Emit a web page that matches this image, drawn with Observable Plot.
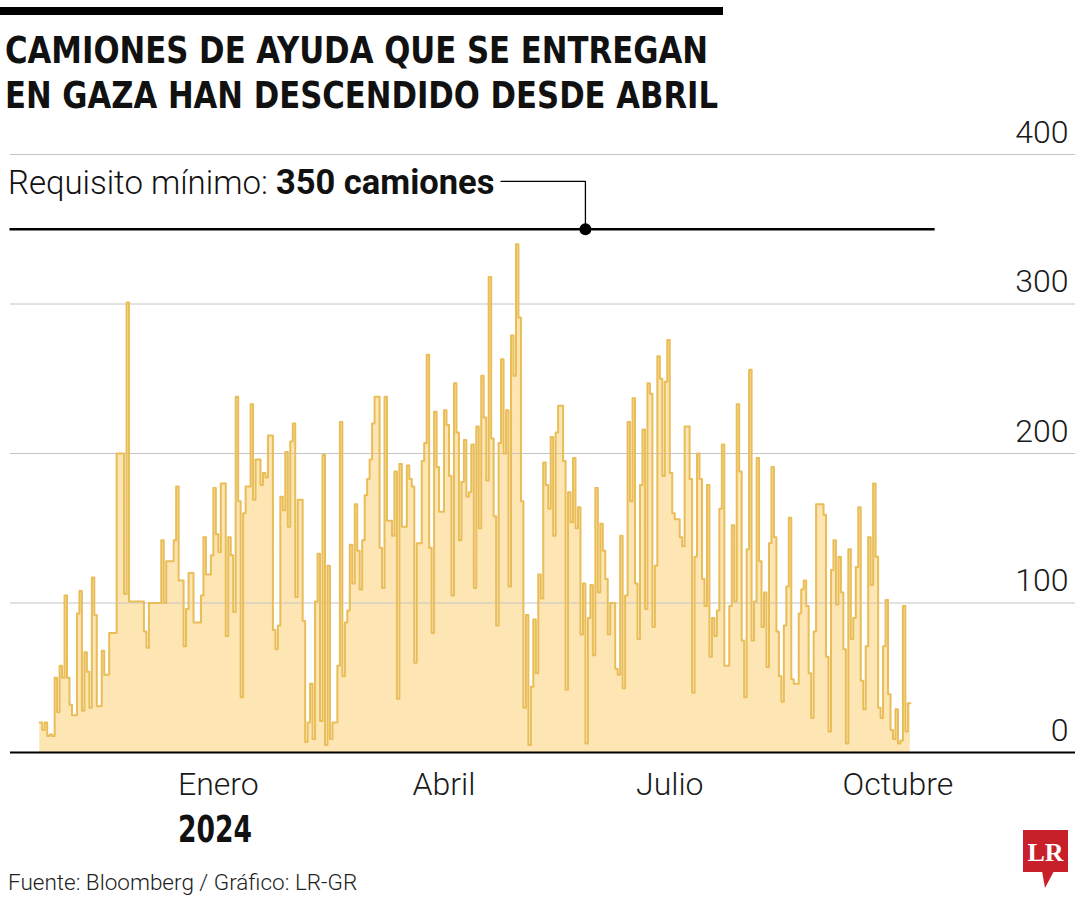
<!DOCTYPE html>
<html>
<head>
<meta charset="utf-8">
<script src="https://cdn.jsdelivr.net/npm/d3@7"></script>
<script src="https://cdn.jsdelivr.net/npm/@observablehq/plot@0.6"></script>
<style>
  body { margin: 0; background: #fff; }
  #wrap { position: relative; width: 1080px; height: 900px; overflow: hidden; font-family: Roboto, sans-serif; color: #1a1a1a; }
  #bar { position: absolute; left: 0; top: 7px; width: 723px; height: 8px; background: #000; }
  .tline { position: absolute; left: 5px; font-family: "DejaVu Sans Condensed", "Liberation Sans Narrow", sans-serif; font-stretch: condensed; font-weight: 700; font-size: 38px; line-height: normal; color: #111; white-space: nowrap; transform-origin: 0 0; }
  #t1 { top: 28px; }
  #t2 { top: 73px; }
  #chart { position: absolute; left: 0; top: 110px; }
  #note { position: absolute; left: 8px; top: 166px; font-size: 33px; line-height: 33px; font-weight: 300; white-space: nowrap; color: #111; }
  #note b { font-weight: 700; font-size: 34.5px; }
  #year { position: absolute; left: 178px; top: 808px; font-family: "DejaVu Sans Condensed", sans-serif; font-stretch: condensed; font-weight: 700; font-size: 37px; line-height: normal; color: #111; white-space: nowrap; transform-origin: 0 0; }
  #source { position: absolute; left: 8px; top: 871px; font-size: 22.5px; line-height: 22.5px; font-weight: 300; color: #222; white-space: nowrap; }
  #logo { position: absolute; left: 1018px; top: 826px; }
</style>
</head>
<body>
<div id="wrap">
  <div id="bar"></div>
  <div id="t1" class="tline" data-w="703">CAMIONES DE AYUDA QUE SE ENTREGAN</div>
  <div id="t2" class="tline" data-w="713">EN GAZA HAN DESCENDIDO DESDE ABRIL</div>
  <div id="chart"></div>
  <div id="note">Requisito mínimo: <b>350 camiones</b></div>
  <div id="year" data-w="74">2024</div>
  <div id="source">Fuente: Bloomberg / Gráfico: LR-GR</div>
  <svg id="logo" width="56" height="70" viewBox="0 0 56 70">
    <rect x="5" y="4" width="45" height="42" fill="#c8202a"/>
    <polygon points="24,45 36,45 27,62" fill="#c8202a"/>
    <text x="27.5" y="35" text-anchor="middle" font-family="Liberation Serif, DejaVu Serif, serif" font-weight="700" font-size="26" fill="#fff">LR</text>
  </svg>
</div>
<script>
// Daily aid trucks entering Gaza, starting 21 Oct 2023
const firstDay = "2023-10-21";
const trucksOctDec = [20,15,20,11,12,11,50,27,58,50,105,50,32,25,25,93,108,28,67,54,30,117,92,31,31,68,52,52,80,80,80,200,200,200,106,301,101,101,101,101,101,101,81,70,100,100,100,100,100,142,100,128,128,128,142,178];
const trucksDecFeb = [115,115,71,96,120,120,87,87,87,105,144,119,119,132,177,146,134,180,180,78,144,132,94,238,168,37,160,178,178,233,169,196,196,179,187,184,212,212,82,69,85,171,162,201,151,208,220,104,169,169,88,7,20,46,9,101,133,21,199];
const trucksFebApr = [5,125,9,20,20,58,221,51,87,95,139,113,166,135,109,142,172,183,196,220,238,238,137,110,238,155,155,145,188,36,193,151,151,192,183,178,60,140,140,195,207,266,137,80,228,191,161,161,229,219,185,105,247,214,142,181,209,171,174];
const trucksAprJun = [206,110,218,150,252,224,182,318,210,158,85,207,263,200,229,111,279,252,340,291,168,30,92,5,44,89,53,119,103,194,179,163,211,145,214,232,232,195,42,174,154,197,150,164,79,113,6,90,112,65,177,107,153,135,116,79,100,100];
const trucksJunAug = [56,52,145,43,105,221,168,237,113,76,179,216,96,247,240,84,125,265,250,185,248,276,187,160,156,156,144,138,218,218,183,40,131,200,183,116,98,179,64,90,78,95,163,206,58,58,98,152,101,233,188,75,37,136,256,75,101,197];
const trucksAugOct = [128,84,107,57,140,191,144,81,51,34,85,111,157,49,46,46,93,109,115,98,53,23,81,166,166,166,159,64,14,122,142,99,131,107,69,6,136,76,90,124,164,48,29,71,144,112,180,131,30,23,71,102,39,15,9,29,6,8,98,14,33];

// Axis ticks
const tickDates = ["2024-01-01", "2024-04-01", "2024-07-01", "2024-10-01"];
const tickLabels = ["Enero", "Abril", "Julio", "Octubre"];
const yTickValues = [0, 100, 200, 300, 400];
const gridValues = [100, 200, 300, 400];

// Annotation
const minimumRequired = 350;
const ruleStart = "2023-10-09";
const ruleEnd = "2024-10-16";
const leaderPoints = [{date: "2024-04-24", value: 382}, {date: "2024-05-28", value: 382}, {date: "2024-05-28", value: 350}];

const DAY = 864e5;
const t0 = new Date(firstDay + "T00:00:00Z");
const daily = [].concat(trucksOctDec, trucksDecFeb, trucksFebApr, trucksAprJun, trucksJunAug, trucksAugOct);
const rows = daily.map((v, i) => ({date: new Date(+t0 + i * DAY), value: v}));
rows.push({date: new Date(+t0 + daily.length * DAY), value: daily[daily.length - 1]});

const toDate = s => new Date(s + "T00:00:00Z");
const ticks = tickDates.map(toDate);
const leader = leaderPoints.map(d => ({date: toDate(d.date), value: d.value}));

const chart = Plot.plot({
  width: 1080,
  height: 740,
  marginTop: 44,
  marginBottom: 98,
  marginLeft: 10,
  marginRight: 5,
  x: {type: "utc", domain: [new Date(Date.UTC(2023, 9, 9, 5)), new Date(Date.UTC(2024, 11, 11, 14))]},
  y: {domain: [0, 400]},
  style: {fontFamily: "Roboto, sans-serif", fontSize: "32px", fontWeight: 300, color: "#1a1a1a", background: "transparent", overflow: "visible"},
  marks: [
    Plot.areaY(rows, {x: "date", y: "value", curve: "step-after", fill: "#fde6b4"}),
    Plot.ruleY(gridValues, {stroke: "#c4c4c4", strokeWidth: 1}),
    Plot.lineY(rows, {x: "date", y: "value", curve: "step-after", stroke: "#e9bd57", strokeWidth: 2}),
    Plot.ruleY([0], {stroke: "#000", strokeWidth: 2}),
    Plot.ruleY([minimumRequired], {x1: toDate(ruleStart), x2: toDate(ruleEnd), stroke: "#000", strokeWidth: 2.5}),
    Plot.line(leader, {x: "date", y: "value", stroke: "#000", strokeWidth: 1.3}),
    Plot.dot([leader[2]], {x: "date", y: "value", r: 6, fill: "#000", stroke: null}),
    Plot.axisX({ticks, tickFormat: d => tickLabels[ticks.findIndex(t => +t === +d)], tickSize: 0, tickPadding: 20, label: null}),
    Plot.axisY({anchor: "right", ticks: yTickValues, tickSize: 0, textAnchor: "end", dx: -16, dy: -22, label: null})
  ]
});
document.getElementById("chart").appendChild(chart);

// fit condensed headline lines to the reference widths
function fit() {
  document.querySelectorAll("[data-w]").forEach(el => {
    el.style.transform = "none";
    const w = el.getBoundingClientRect().width;
    const target = +el.dataset.w;
    if (w > 0) el.style.transform = "scaleX(" + (target / w) + ")";
  });
}
fit();
if (document.fonts && document.fonts.ready) document.fonts.ready.then(fit);
</script>
</body>
</html>
